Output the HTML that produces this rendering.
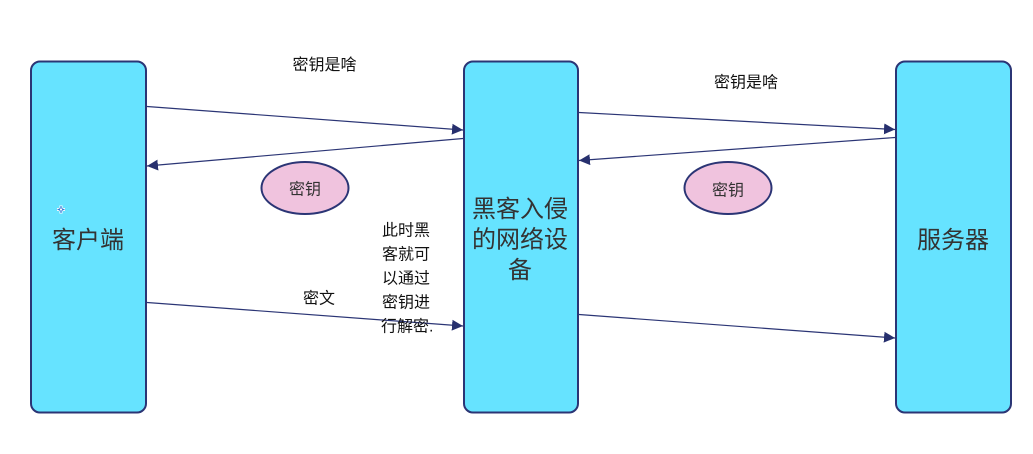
<!DOCTYPE html>
<html>
<head>
<meta charset="utf-8">
<style>
html,body{margin:0;padding:0;background:#fff;}
svg{display:block;}
text{font-family:"Liberation Sans","Noto Sans CJK SC",sans-serif;}
</style>
</head>
<body>
<svg width="1033" height="454" viewBox="0 0 1033 454" xmlns="http://www.w3.org/2000/svg">
<defs>
<marker id="ah" markerUnits="userSpaceOnUse" markerWidth="12" markerHeight="12" refX="11" refY="5.5" orient="auto">
<path d="M0,0 L11,5.5 L0,11 z" fill="#27306e"/>
</marker>
</defs>
<rect width="1033" height="454" fill="#fff"/>

<!-- boxes -->
<rect x="31" y="61.5" width="115" height="351" rx="9" ry="9" fill="#66e3ff" stroke="#2b3575" stroke-width="2"/>
<rect x="464" y="61.5" width="114" height="351" rx="9" ry="9" fill="#66e3ff" stroke="#2b3575" stroke-width="2"/>
<rect x="896" y="61.5" width="115" height="351" rx="9" ry="9" fill="#66e3ff" stroke="#2b3575" stroke-width="2"/>

<!-- arrows -->
<g stroke="#2b3575" stroke-width="1.2" fill="none" marker-end="url(#ah)">
<line x1="147" y1="106.5" x2="463" y2="130"/>
<line x1="463" y1="138.5" x2="147" y2="166"/>
<line x1="147" y1="302.5" x2="463" y2="326"/>
<line x1="579" y1="112.5" x2="895" y2="129.5"/>
<line x1="895" y1="137.5" x2="579" y2="160.5"/>
<line x1="579" y1="314.5" x2="895" y2="338"/>
</g>

<!-- ellipses -->
<ellipse cx="305" cy="188" rx="43.5" ry="26" fill="#f0c3de" stroke="#2b3575" stroke-width="2"/>
<ellipse cx="728" cy="188" rx="43.5" ry="26" fill="#f0c3de" stroke="#2b3575" stroke-width="2"/>
<text x="305" y="194.5" font-size="16" fill="#333" text-anchor="middle">密钥</text>
<text x="728" y="195.5" font-size="16" fill="#333" text-anchor="middle">密钥</text>

<!-- labels -->
<text x="324.5" y="70" font-size="16" fill="#111" text-anchor="middle">密钥是啥</text>
<text x="746" y="87.5" font-size="16" fill="#111" text-anchor="middle">密钥是啥</text>
<text x="319" y="303.5" font-size="16" fill="#111" text-anchor="middle">密文</text>

<g font-size="16" fill="#111">
<text x="382" y="235.5">此时黑</text>
<text x="382" y="259.5">客就可</text>
<text x="382" y="283.5">以通过</text>
<text x="382" y="307.5">密钥进</text>
<text x="381" y="331.5">行解密.</text>
</g>

<!-- box labels -->
<text x="88" y="248" font-size="24" fill="#333" text-anchor="middle">客户端</text>
<g font-size="24" fill="#333" text-anchor="middle">
<text x="520" y="217">黑客入侵</text>
<text x="520" y="247.5">的网络设</text>
<text x="520" y="278">备</text>
</g>
<text x="953" y="248" font-size="24" fill="#333" text-anchor="middle">服务器</text>

<!-- small cross icon -->
<g transform="translate(61,209.5)">
<path d="M-4,0 L4,0 M0,-4 L0,4" stroke="#fff" stroke-width="3"/>
<path d="M-3.5,0 L3.5,0 M0,-3.5 L0,3.5" stroke="#3a7bd5" stroke-width="1.2"/>
<circle cx="0" cy="0" r="1.5" fill="#fff" stroke="#3a7bd5" stroke-width="0.8"/>
</g>
</svg>
</body>
</html>
